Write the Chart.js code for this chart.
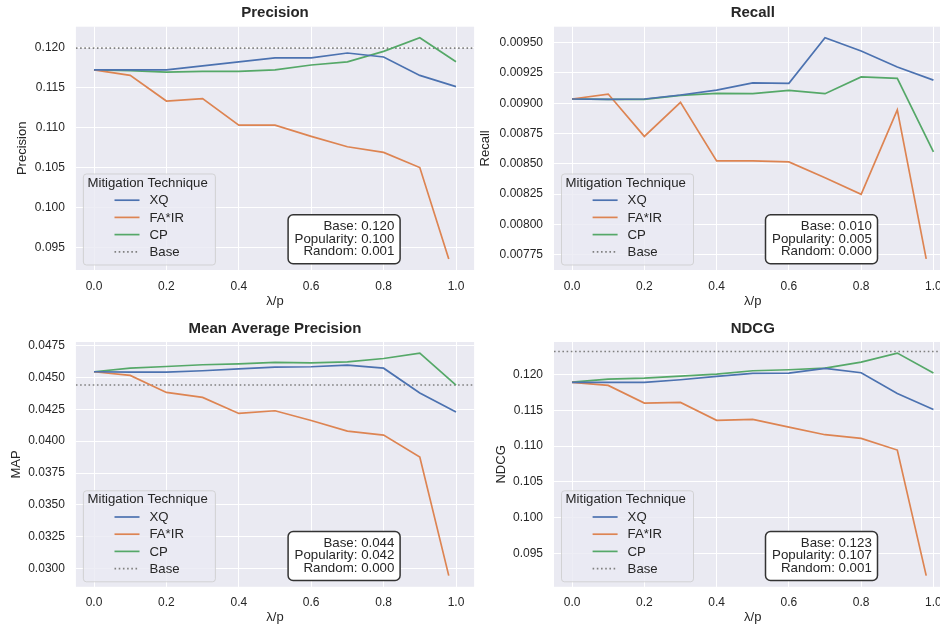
<!DOCTYPE html>
<html>
<head>
<meta charset="utf-8">
<title>Mitigation techniques: accuracy metrics</title>
<script src="https://cdn.jsdelivr.net/npm/chart.js@4.4.0/dist/chart.umd.min.js"></script>
<style>
  html, body { margin: 0; padding: 0; background: #ffffff; width: 940px; height: 626px; overflow: hidden; }
  .panel { position: absolute; }
  .panel canvas { display: block; }
</style>
</head>
<body>
<div class="panel" id="p0"><canvas id="c0"></canvas></div>
<div class="panel" id="p1"><canvas id="c1"></canvas></div>
<div class="panel" id="p2"><canvas id="c2"></canvas></div>
<div class="panel" id="p3"><canvas id="c3"></canvas></div>
<script>
// ---- data -------------------------------------------------------------
const metricTitles = ['Precision', 'Recall', 'Mean Average Precision', 'NDCG'];
const yAxisTitles  = ['Precision', 'Recall', 'MAP', 'NDCG'];
const xAxisTitle   = 'λ/p';
const techniqueNames = ['XQ', 'FA*IR', 'CP', 'Base'];

// λ for XQ / CP, p for FA*IR
const lambdaSteps = [0.0, 0.1, 0.2, 0.3, 0.4, 0.5, 0.6, 0.7, 0.8, 0.9, 1.0];
const fairSteps   = [0.0, 0.1, 0.2, 0.3, 0.4, 0.5, 0.6, 0.7, 0.8, 0.9, 0.98];

const xTickValues = [0.0, 0.2, 0.4, 0.6, 0.8, 1.0];
const xTickLabels = ['0.0', '0.2', '0.4', '0.6', '0.8', '1.0'];

const precisionXQ   = [0.1172, 0.1172, 0.1172, 0.1177, 0.1182, 0.1187, 0.1187, 0.1193, 0.1188, 0.1165, 0.1151];
const precisionFAIR = [0.1172, 0.1165, 0.1133, 0.1136, 0.1103, 0.1103, 0.1089, 0.1076, 0.1069, 0.1050, 0.0936];
const precisionCP   = [0.1172, 0.1171, 0.1169, 0.1170, 0.1170, 0.1172, 0.1178, 0.1182, 0.1195, 0.1212, 0.1182];

const recallXQ   = [0.009035, 0.009032, 0.009035, 0.009068, 0.009109, 0.009169, 0.009164, 0.009541, 0.009432, 0.009300, 0.009191];
const recallFAIR = [0.009035, 0.009076, 0.008726, 0.009008, 0.008524, 0.008524, 0.008516, 0.008384, 0.008248, 0.008945, 0.007714];
const recallCP   = [0.009035, 0.009032, 0.009032, 0.009065, 0.009082, 0.009079, 0.009106, 0.009079, 0.009218, 0.009205, 0.008598];

const mapXQ   = [0.04544, 0.04541, 0.04541, 0.04552, 0.04567, 0.04580, 0.04583, 0.04596, 0.04572, 0.04377, 0.04228];
const mapFAIR = [0.04544, 0.04515, 0.04382, 0.04343, 0.04217, 0.04238, 0.04162, 0.04079, 0.04047, 0.03875, 0.02945];
const mapCP   = [0.04544, 0.04572, 0.04585, 0.04599, 0.04606, 0.04617, 0.04614, 0.04622, 0.04648, 0.04690, 0.04439];

const ndcgXQ   = [0.11888, 0.11888, 0.11888, 0.11926, 0.11972, 0.12014, 0.12019, 0.12084, 0.12023, 0.11735, 0.11512];
const ndcgFAIR = [0.11888, 0.11847, 0.11600, 0.11610, 0.11359, 0.11373, 0.11266, 0.11159, 0.11108, 0.10945, 0.09193];
const ndcgCP   = [0.11893, 0.11935, 0.11949, 0.11977, 0.12005, 0.12051, 0.12065, 0.12088, 0.12172, 0.12297, 0.12019];

// reference scores of the un-mitigated recommender and two baselines
const baseScores       = [0.1199, 0.0100, 0.0444, 0.1232];
const popularityScores = [0.100, 0.005, 0.042, 0.107];
const randomScores     = [0.001, 0.000, 0.000, 0.001];

const precisionTicks = [0.095, 0.100, 0.105, 0.110, 0.115, 0.120];
const precisionTickLabels = ['0.095', '0.100', '0.105', '0.110', '0.115', '0.120'];
const recallTicks = [0.00775, 0.00800, 0.00825, 0.00850, 0.00875, 0.00900, 0.00925, 0.00950];
const recallTickLabels = ['0.00775', '0.00800', '0.00825', '0.00850', '0.00875', '0.00900', '0.00925', '0.00950'];
const mapTicks = [0.0300, 0.0325, 0.0350, 0.0375, 0.0400, 0.0425, 0.0450, 0.0475];
const mapTickLabels = ['0.0300', '0.0325', '0.0350', '0.0375', '0.0400', '0.0425', '0.0450', '0.0475'];
const ndcgTicks = [0.095, 0.100, 0.105, 0.110, 0.115, 0.120];
const ndcgTickLabels = ['0.095', '0.100', '0.105', '0.110', '0.115', '0.120'];

const seriesXQ   = [precisionXQ, recallXQ, mapXQ, ndcgXQ];
const seriesFAIR = [precisionFAIR, recallFAIR, mapFAIR, ndcgFAIR];
const seriesCP   = [precisionCP, recallCP, mapCP, ndcgCP];
const yTicks      = [precisionTicks, recallTicks, mapTicks, ndcgTicks];
const yTickLabels = [precisionTickLabels, recallTickLabels, mapTickLabels, ndcgTickLabels];

// ---- style ------------------------------------------------------------
const COLORS = { xq: '#4C72B0', fair: '#DD8452', cp: '#55A868', base: '#808080' };
const PLOT_BG = '#EAEAF2';
const TEXT = '#262626';
const FONT = '"Liberation Sans", Arial, Helvetica, sans-serif';
const DOTTED = [1.6, 2.6];
const LINE_W = 1.7;

Chart.defaults.font.family = FONT;
Chart.defaults.color = TEXT;
Chart.defaults.animation = false;

// panel frames in the 2x2 grid
const frames = [
  { left: 0,   top: 0,   width: 480, height: 313, padL: 15,   axisW: 60.9, padR: 5.9, titleTop: 4.3, titleBottom: 4.4, axisH: 39.5, padB: 3.5 },
  { left: 470, top: 0,   width: 490, height: 313, padL: 7.9,  axisW: 76.1, padR: 8.5, titleTop: 4.3, titleBottom: 4.4, axisH: 39.5, padB: 3.5 },
  { left: 0,   top: 313, width: 480, height: 313, padL: 8.2,  axisW: 67.7, padR: 5.9, titleTop: 6.7, titleBottom: 4.3, axisH: 38,   padB: 1.2 },
  { left: 470, top: 313, width: 490, height: 313, padL: 23.2, axisW: 60.8, padR: 8.5, titleTop: 6.7, titleBottom: 4.3, axisH: 38,   padB: 1.2 }
];

// matplotlib-like autoscale: data range plus 5% on each side
function paddedRange(values) {
  const lo = Math.min(...values), hi = Math.max(...values);
  const m = (hi - lo) * 0.05;
  return [lo - m, hi + m];
}
const xRange = paddedRange(lambdaSteps.concat(fairSteps));

function points(xs, ys) { return xs.map((x, i) => ({ x: x, y: ys[i] })); }

function roundRect(ctx, x, y, w, h, r) {
  ctx.beginPath();
  ctx.moveTo(x + r, y);
  ctx.lineTo(x + w - r, y);
  ctx.arcTo(x + w, y, x + w, y + r, r);
  ctx.lineTo(x + w, y + h - r);
  ctx.arcTo(x + w, y + h, x + w - r, y + h, r);
  ctx.lineTo(x + r, y + h);
  ctx.arcTo(x, y + h, x, y + h - r, r);
  ctx.lineTo(x, y + r);
  ctx.arcTo(x, y, x + r, y, r);
  ctx.closePath();
}

// grey plotting area behind the white grid
const plotBackground = {
  id: 'plotBackground',
  beforeDraw(chart) {
    const { ctx, chartArea: a } = chart;
    ctx.save();
    ctx.fillStyle = PLOT_BG;
    ctx.fillRect(a.left, a.top, a.right - a.left, a.bottom - a.top);
    ctx.restore();
  }
};

// "Mitigation Technique" legend in the lower-left corner of the plot
const techniqueLegend = {
  id: 'techniqueLegend',
  afterDatasetsDraw(chart, args, opts) {
    const { ctx, chartArea: a } = chart;
    const w = 132, h = 91;
    const x = a.left + 7, y = a.bottom - 5.5 - h;
    ctx.save();
    roundRect(ctx, x + 0.5, y + 0.5, w, h, 3);
    ctx.fillStyle = 'rgba(234,234,242,0.8)';
    ctx.fill();
    ctx.strokeStyle = 'rgba(204,204,204,0.8)';
    ctx.lineWidth = 1;
    ctx.stroke();
    ctx.font = '13.2px ' + FONT;
    ctx.fillStyle = TEXT;
    ctx.textBaseline = 'middle';
    ctx.textAlign = 'left';
    ctx.fillText(opts.title, x + 4.6, y + 9.5);
    opts.entries.forEach((e, i) => {
      const cy = y + 26.7 + i * 17.2;
      ctx.beginPath();
      ctx.setLineDash(e.dash || []);
      ctx.strokeStyle = e.color;
      ctx.lineWidth = LINE_W;
      ctx.moveTo(x + 31.6, cy);
      ctx.lineTo(x + 56.6, cy);
      ctx.stroke();
      ctx.setLineDash([]);
      ctx.fillStyle = TEXT;
      ctx.fillText(e.label, x + 66.6, cy + 0.5);
    });
    ctx.restore();
  }
};

// boxed summary of the reference scores
const scoreBox = {
  id: 'scoreBox',
  afterDatasetsDraw(chart, args, opts) {
    const { ctx, chartArea: a } = chart;
    const w = 112, h = 49;
    const right = a.right - 74, bottom = a.bottom - 6.3;
    const x = right - w, y = bottom - h;
    ctx.save();
    roundRect(ctx, x, y, w, h, 5);
    ctx.fillStyle = '#ffffff';
    ctx.fill();
    ctx.strokeStyle = '#333333';
    ctx.lineWidth = 1.5;
    ctx.stroke();
    ctx.font = '13.3px ' + FONT;
    ctx.fillStyle = TEXT;
    ctx.textAlign = 'right';
    ctx.textBaseline = 'middle';
    opts.lines.forEach((t, i) => ctx.fillText(t, right - 5.7, y + 11.5 + i * 12.7));
    ctx.restore();
  }
};

function lineSet(label, xs, ys, color, dash) {
  return {
    label: label,
    data: points(xs, ys),
    borderColor: color,
    backgroundColor: color,
    borderWidth: LINE_W,
    borderDash: dash || [],
    pointRadius: 0,
    pointHoverRadius: 0,
    tension: 0,
    fill: false
  };
}

for (let k = 0; k < 4; k++) {
  const f = frames[k];
  const panel = document.getElementById('p' + k);
  panel.style.left = f.left + 'px';
  panel.style.top = f.top + 'px';
  const canvas = document.getElementById('c' + k);
  canvas.width = f.width;
  canvas.height = f.height;
  canvas.style.width = f.width + 'px';
  canvas.style.height = f.height + 'px';

  const yRange = paddedRange(seriesXQ[k].concat(seriesFAIR[k], seriesCP[k]));
  const ticksY = yTicks[k], labelsY = yTickLabels[k];

  new Chart(canvas, {
    type: 'line',
    data: {
      datasets: [
        lineSet(techniqueNames[0], lambdaSteps, seriesXQ[k], COLORS.xq),
        lineSet(techniqueNames[1], fairSteps, seriesFAIR[k], COLORS.fair),
        lineSet(techniqueNames[2], lambdaSteps, seriesCP[k], COLORS.cp),
        lineSet(techniqueNames[3], xRange, [baseScores[k], baseScores[k]], COLORS.base, DOTTED)
      ]
    },
    options: {
      responsive: false,
      animation: false,
      events: [],
      layout: { padding: { left: f.padL, right: f.padR, top: 0, bottom: f.padB } },
      scales: {
        x: {
          type: 'linear',
          min: xRange[0],
          max: xRange[1],
          border: { display: false },
          grid: { color: '#ffffff', lineWidth: 1, drawTicks: false },
          ticks: {
            padding: 9,
            font: { size: 12 },
            color: TEXT,
            maxRotation: 0,
            callback: (v, i) => xTickLabels[i]
          },
          afterBuildTicks: (axis) => { axis.ticks = xTickValues.map(v => ({ value: v })); },
          afterFit: (axis) => { axis.height = f.axisH; },
          title: { display: true, text: xAxisTitle, font: { size: 13 }, color: TEXT, padding: 0 }
        },
        y: {
          type: 'linear',
          min: yRange[0],
          max: yRange[1],
          border: { display: false },
          grid: { color: '#ffffff', lineWidth: 1, drawTicks: false },
          ticks: {
            padding: 11,
            font: { size: 12 },
            color: TEXT,
            callback: (v, i) => labelsY[i]
          },
          afterBuildTicks: (axis) => { axis.ticks = ticksY.map(v => ({ value: v })); },
          afterFit: (axis) => { axis.width = f.axisW; },
          title: { display: true, text: yAxisTitles[k], font: { size: 13 }, color: TEXT, padding: 0 }
        }
      },
      plugins: {
        legend: { display: false },
        tooltip: { enabled: false },
        title: {
          display: true,
          text: metricTitles[k],
          fullSize: false,
          color: TEXT,
          font: { size: 15, weight: 'bold' },
          padding: { top: f.titleTop, bottom: f.titleBottom }
        },
        techniqueLegend: {
          title: 'Mitigation Technique',
          entries: [
            { label: techniqueNames[0], color: COLORS.xq },
            { label: techniqueNames[1], color: COLORS.fair },
            { label: techniqueNames[2], color: COLORS.cp },
            { label: techniqueNames[3], color: COLORS.base, dash: DOTTED }
          ]
        },
        scoreBox: {
          lines: [
            'Base: ' + baseScores[k].toFixed(3),
            'Popularity: ' + popularityScores[k].toFixed(3),
            'Random: ' + randomScores[k].toFixed(3)
          ]
        }
      }
    },
    plugins: [plotBackground, techniqueLegend, scoreBox]
  });
}
</script>
</body>
</html>
